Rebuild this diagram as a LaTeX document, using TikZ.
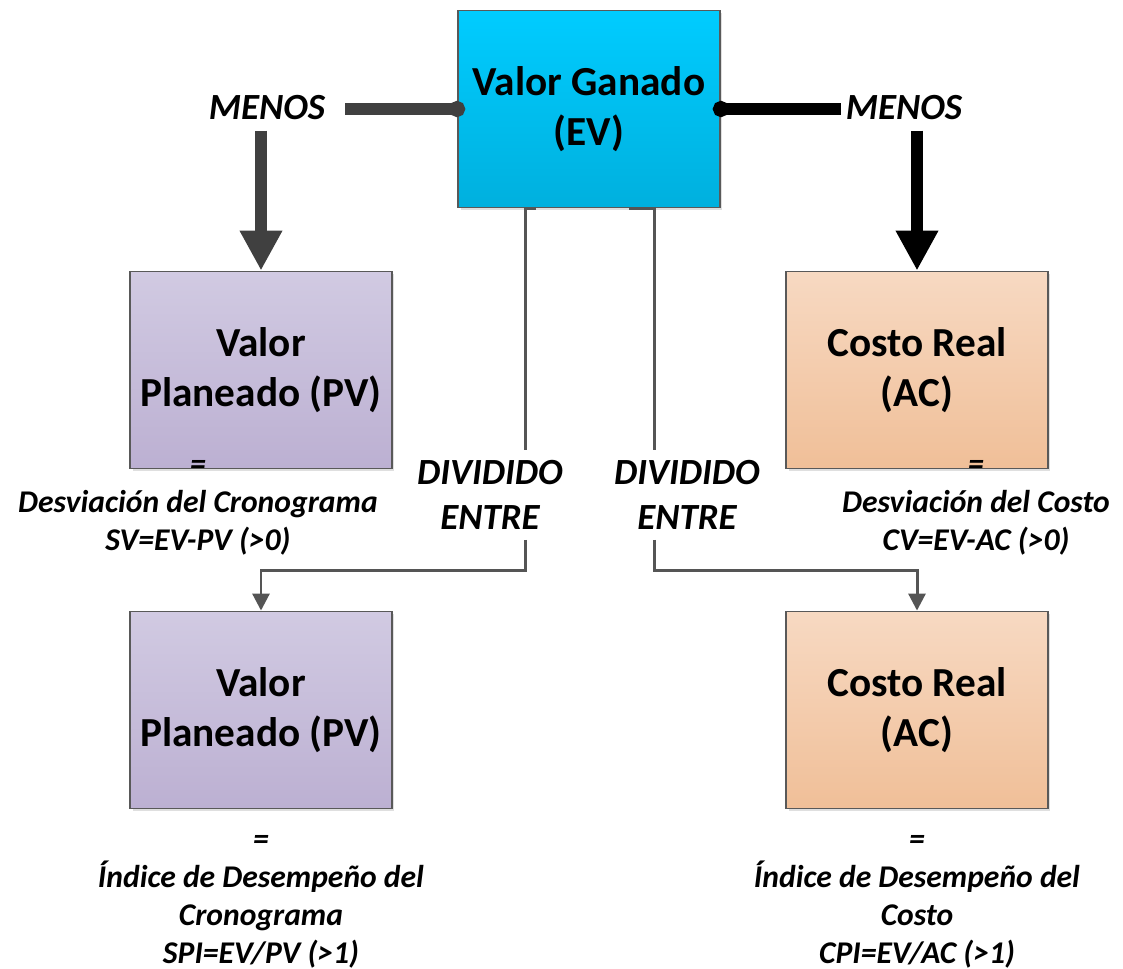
\documentclass[tikz,border=0pt]{standalone}
\usepackage{fontspec}
\setmainfont{Carlito}
\usetikzlibrary{positioning}
\usetikzlibrary{arrows.meta}
\usetikzlibrary{calc,shadows}

\definecolor{evtop}{HTML}{00CCFF}
\definecolor{evbot}{HTML}{00B0DE}
\definecolor{pvtop}{HTML}{D1CAE2}
\definecolor{pvbot}{HTML}{BCB0D2}
\definecolor{actop}{HTML}{F7D9C2}
\definecolor{acbot}{HTML}{F0BF98}
\definecolor{boxline}{HTML}{595959}
\definecolor{menosgray}{HTML}{404040}
\definecolor{divgray}{HTML}{555555}

\begin{document}
\begin{tikzpicture}[x=0.02cm,y=-0.02cm]

	\tikzstyle{box}=[rectangle,draw=boxline,line width=1.1pt,minimum width=5.24cm,minimum height=3.94cm,align=center,
	font=\fontsize{23.5}{28.5}\selectfont\bfseries,drop shadow={opacity=.25,shadow xshift=.05cm,shadow yshift=-.05cm}]
	\tikzstyle{blue box}=[box,top color=evtop,bottom color=evbot]
	\tikzstyle{purple box}=[box,top color=pvtop,bottom color=pvbot]
	\tikzstyle{orange box}=[box,top color=actop,bottom color=acbot]
	\tikzstyle{op}=[align=center,inner sep=.1cm,font=\fontsize{21}{25.5}\selectfont\bfseries\itshape]
	\tikzstyle{result}=[op,font=\fontsize{18}{21.5}\selectfont\bfseries\itshape]
	\tikzstyle{menos line}=[line width=7pt]
	\tikzstyle{div line}=[line width=1.7pt,draw=divgray]

	\useasboundingbox (0,0) rectangle (1123,969);

	\node [blue box] at (589,109) (ev) {Valor Ganado\\(EV)};
	\node [purple box] at (261,370) (pv1) {Valor\\Planeado (PV)};
	\node [orange box] at (917,370) (ac1) {Costo Real\\(AC)};
	\node [purple box] at (261,710) (pv2) {Valor\\Planeado (PV)};
	\node [orange box] at (917,710) (ac2) {Costo Real\\(AC)};

	% MENOS:
	\node [op] at (267,108) (menos1) {MENOS};
	\node [op] at (904,108) (menos2) {MENOS};
	\draw[menos line,draw=menosgray,{Circle[length=.32cm]}-,shorten <=-.16cm,shorten >=.3cm] (ev.west) -- (ev.west -| menos1.east);
	\draw[menos line,draw=menosgray,-{Triangle[length=.8cm,width=.8cm]},shorten <=.1cm] (menos1.south -| pv1.north) -- (pv1.north);
	\draw[menos line,draw=black,{Circle[length=.32cm]}-,shorten <=-.16cm] (ev.east) -- (ev.east -| menos2.west);
	\draw[menos line,draw=black,-{Triangle[length=.8cm,width=.8cm]},shorten <=.1cm] (menos2.south -| ac1.north) -- (ac1.north);

	% DIVIDIDO ENTRE:
	\node [op,inner ysep=.2cm] at (490,495) (div1) {DIVIDIDO\\ENTRE};
	\node [op,inner ysep=.2cm] at (687,495) (div2) {DIVIDIDO\\ENTRE};
	\coordinate (d1) at ($(ev.south west)!.26!(ev.south east)$);
	\coordinate (d2) at ($(ev.south west)!.748!(ev.south east)$);
	\draw[div line] ($(ev.south west)!.30!(ev.south east)$) -- (d1) -- (d1 |- div1.north);
	\draw[div line,-{Triangle[length=.34cm,width=.34cm]}] (d1 |- div1.south) |- ($(pv2.north)+(0,-40)$) -- (pv2.north);
	\draw[div line] ($(ev.south west)!.65!(ev.south east)$) -- (d2) -- (d2 |- div2.north);
	\draw[div line,-{Triangle[length=.34cm,width=.34cm]}] (d2 |- div2.south) |- ($(ac2.north)+(0,-40)$) -- (ac2.north);

	\node [result] at (198,508) (sv) {=\\Desviación del Cronograma\\SV=EV-PV (>0)};
	\node [result] at (976,508) (cv) {=\\Desviación del Costo\\CV=EV-AC (>0)};
	\node [result] at (261,902) (spi) {=\\Índice de Desempeño del\\Cronograma\\SPI=EV/PV (>1)};
	\node [result] at (917,902) (cpi) {=\\Índice de Desempeño del\\Costo\\CPI=EV/AC (>1)};

\end{tikzpicture}
\end{document}
